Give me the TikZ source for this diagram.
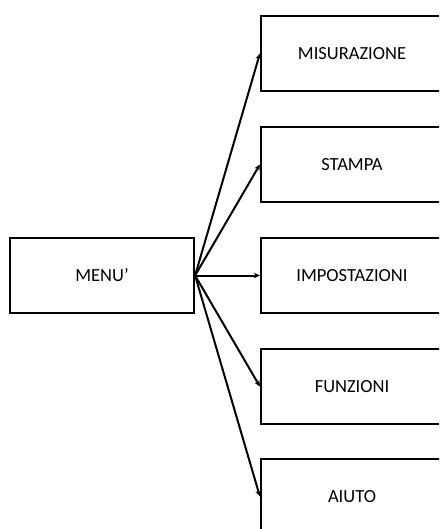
\documentclass[tikz,border=0pt]{standalone}
\usepackage{fontspec}
\setmainfont{Carlito}
\usetikzlibrary{arrows.meta}
\begin{document}
\begin{tikzpicture}[x=1pt,y=-1pt,
  box/.style={draw,line width=2.2pt,minimum width=182pt,minimum height=75pt,inner sep=0pt,font=\fontsize{18.5}{22}\selectfont},
  conn/.style={line width=2pt,-{Stealth[length=6pt,width=5.5pt]}}]
\useasboundingbox (0,0) rectangle (439,529);
\clip (0,0) rectangle (439,529);
\node[box,minimum width=184pt] (menu) at (102,275.5) {MENU’};
\node[box] (m) at (352,53.5) {MISURAZIONE};
\node[box] (s) at (352,164.5) {STAMPA};
\node[box] (i) at (352,275.5) {IMPOSTAZIONI};
\node[box] (f) at (352,386.5) {FUNZIONI};
\node[box] (a) at (352,496.5) {AIUTO};
\foreach \t in {m,s,i,f,a}
  \draw[conn] (menu.east) -- (\t.west);
\end{tikzpicture}
\end{document}
